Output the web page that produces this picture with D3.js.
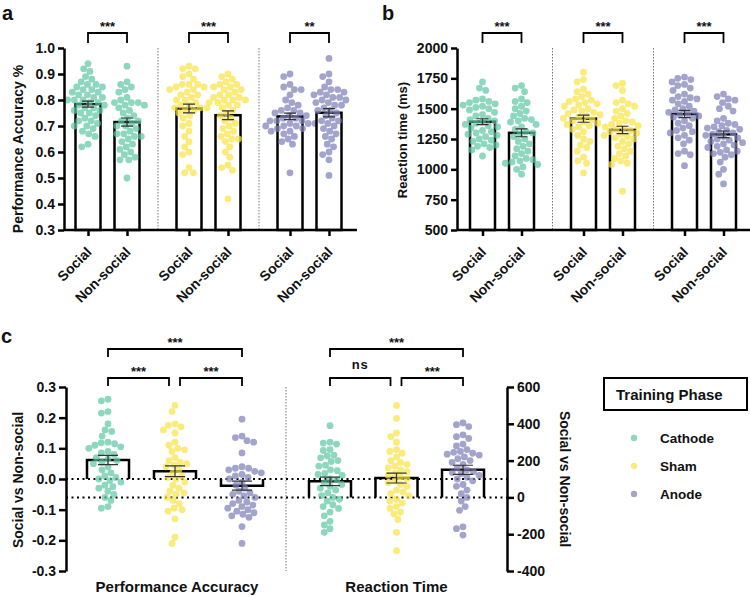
<!DOCTYPE html>
<html lang="en">
<head>
<meta charset="UTF-8">
<title>Social vs Non-social</title>
<style>
  body { margin: 0; background: #fff; }
  svg text { font-family: "Liberation Sans", Arial, sans-serif; font-weight: bold; fill: #111; }
</style>
</head>
<body>
<script src="https://d3js.org/d3.v7.min.js"></script>
<script>
// ---------- data ----------
var phases = ["Cathode", "Sham", "Anode"];
var conditions = ["Social", "Non-social"];
var phaseColor = ["#5fc7a3", "#f8e346", "#8081b9"];

var accTicks = [0.3, 0.4, 0.5, 0.6, 0.7, 0.8, 0.9, 1.0];
var rtTicks = [500, 750, 1000, 1250, 1500, 1750, 2000];
var diffAccTicks = [-0.3, -0.2, -0.1, 0, 0.1, 0.2, 0.3];
var diffRtTicks = [-400, -200, 0, 200, 400, 600];

// a: performance accuracy
var accCathodeSocial = [0.94, 0.92, 0.91, 0.89, 0.88, 0.87, 0.86, 0.86, 0.85, 0.85, 0.84, 0.84, 0.83, 0.83, 0.82, 0.82, 0.81, 0.81, 0.80, 0.80, 0.80, 0.79, 0.79, 0.78, 0.78, 0.77, 0.77, 0.76, 0.76, 0.75, 0.75, 0.74, 0.73, 0.72, 0.72, 0.71, 0.70, 0.70, 0.69, 0.68, 0.67, 0.66, 0.63, 0.62];
var accCathodeNon = [0.93, 0.87, 0.86, 0.85, 0.84, 0.83, 0.81, 0.80, 0.79, 0.79, 0.79, 0.78, 0.78, 0.77, 0.76, 0.75, 0.74, 0.73, 0.72, 0.72, 0.71, 0.70, 0.70, 0.69, 0.68, 0.67, 0.67, 0.66, 0.66, 0.65, 0.64, 0.63, 0.62, 0.61, 0.60, 0.59, 0.58, 0.57, 0.57, 0.50];
var accShamSocial = [0.93, 0.92, 0.92, 0.90, 0.89, 0.88, 0.86, 0.86, 0.86, 0.85, 0.85, 0.84, 0.84, 0.83, 0.82, 0.82, 0.81, 0.80, 0.80, 0.79, 0.78, 0.78, 0.77, 0.77, 0.77, 0.76, 0.76, 0.75, 0.74, 0.73, 0.71, 0.70, 0.68, 0.66, 0.64, 0.62, 0.60, 0.59, 0.54, 0.52, 0.52];
var accShamNon = [0.90, 0.89, 0.88, 0.87, 0.86, 0.86, 0.85, 0.85, 0.84, 0.84, 0.83, 0.82, 0.82, 0.81, 0.81, 0.80, 0.80, 0.80, 0.79, 0.79, 0.78, 0.78, 0.77, 0.76, 0.75, 0.74, 0.73, 0.72, 0.71, 0.70, 0.69, 0.68, 0.67, 0.66, 0.65, 0.65, 0.64, 0.62, 0.60, 0.58, 0.55, 0.54, 0.53, 0.42];
var accAnodeSocial = [0.90, 0.89, 0.86, 0.85, 0.84, 0.84, 0.82, 0.80, 0.79, 0.78, 0.77, 0.76, 0.76, 0.75, 0.75, 0.74, 0.74, 0.73, 0.73, 0.72, 0.72, 0.72, 0.71, 0.71, 0.71, 0.70, 0.70, 0.70, 0.69, 0.69, 0.68, 0.68, 0.67, 0.66, 0.65, 0.64, 0.63, 0.52];
var accAnodeNon = [0.96, 0.90, 0.89, 0.87, 0.85, 0.84, 0.84, 0.83, 0.83, 0.82, 0.82, 0.81, 0.81, 0.80, 0.80, 0.79, 0.79, 0.78, 0.78, 0.77, 0.76, 0.76, 0.75, 0.74, 0.73, 0.72, 0.72, 0.71, 0.70, 0.69, 0.68, 0.67, 0.66, 0.65, 0.63, 0.62, 0.60, 0.59, 0.57, 0.51];

// b: reaction time (ms)
var rtCathodeSocial = [1720, 1670, 1650, 1580, 1570, 1560, 1550, 1540, 1530, 1520, 1510, 1500, 1490, 1470, 1450, 1440, 1420, 1410, 1400, 1390, 1380, 1370, 1360, 1350, 1340, 1320, 1310, 1300, 1290, 1280, 1270, 1250, 1240, 1230, 1210, 1200, 1190, 1180, 1160, 1110];
var rtCathodeNon = [1690, 1670, 1640, 1580, 1560, 1550, 1520, 1500, 1480, 1460, 1440, 1420, 1410, 1400, 1390, 1370, 1350, 1330, 1310, 1300, 1290, 1270, 1250, 1230, 1210, 1190, 1170, 1150, 1130, 1110, 1090, 1080, 1070, 1060, 1050, 1040, 1020, 1000, 960];
var rtShamSocial = [1800, 1740, 1720, 1660, 1640, 1620, 1600, 1580, 1570, 1560, 1550, 1540, 1530, 1520, 1500, 1490, 1480, 1470, 1460, 1450, 1440, 1430, 1420, 1410, 1400, 1390, 1380, 1370, 1360, 1350, 1330, 1310, 1280, 1250, 1230, 1200, 1180, 1150, 1100, 1070, 1050, 970];
var rtShamNon = [1710, 1690, 1650, 1570, 1550, 1540, 1520, 1500, 1480, 1460, 1440, 1420, 1400, 1390, 1380, 1370, 1360, 1350, 1340, 1330, 1320, 1310, 1300, 1290, 1280, 1270, 1260, 1250, 1230, 1210, 1190, 1170, 1150, 1130, 1110, 1090, 1070, 1050, 1040, 820];
var rtAnodeSocial = [1760, 1750, 1740, 1720, 1700, 1690, 1670, 1650, 1620, 1600, 1590, 1580, 1570, 1560, 1540, 1520, 1500, 1490, 1480, 1470, 1460, 1450, 1440, 1430, 1420, 1400, 1380, 1360, 1340, 1320, 1310, 1300, 1280, 1260, 1240, 1210, 1150, 1130, 1120, 1030];
var rtAnodeNon = [1620, 1600, 1580, 1570, 1550, 1520, 1500, 1480, 1420, 1400, 1380, 1370, 1360, 1350, 1340, 1330, 1320, 1310, 1300, 1290, 1280, 1270, 1260, 1250, 1240, 1230, 1220, 1210, 1200, 1190, 1180, 1160, 1150, 1140, 1130, 1120, 1100, 1060, 1000, 960, 880];

// c: social minus non-social
var diffAccCathode = [0.26, 0.255, 0.22, 0.215, 0.18, 0.16, 0.155, 0.14, 0.12, 0.118, 0.115, 0.11, 0.105, 0.10, 0.09, 0.085, 0.08, 0.07, 0.065, 0.06, 0.055, 0.05, 0.04, 0.03, 0.02, 0.01, 0.005, 0.0, -0.005, -0.01, -0.02, -0.025, -0.03, -0.04, -0.05, -0.06, -0.07, -0.09, -0.095];
var diffAccSham = [0.24, 0.22, 0.18, 0.175, 0.17, 0.16, 0.15, 0.12, 0.11, 0.10, 0.095, 0.09, 0.07, 0.06, 0.055, 0.05, 0.045, 0.04, 0.03, 0.02, 0.01, 0.005, 0.0, -0.01, -0.02, -0.03, -0.04, -0.045, -0.05, -0.06, -0.07, -0.08, -0.095, -0.10, -0.105, -0.13, -0.19, -0.21];
var diffAccAnode = [0.195, 0.14, 0.135, 0.125, 0.12, 0.085, 0.04, 0.035, 0.035, 0.03, 0.025, 0.02, 0.015, 0.01, 0.005, 0.0, -0.01, -0.02, -0.03, -0.04, -0.045, -0.05, -0.055, -0.06, -0.07, -0.075, -0.08, -0.085, -0.09, -0.095, -0.10, -0.105, -0.11, -0.115, -0.12, -0.125, -0.155, -0.21];
var diffRtCathode = [390, 300, 295, 290, 260, 255, 230, 225, 215, 200, 195, 175, 170, 150, 145, 130, 125, 120, 100, 95, 80, 70, 60, 50, 40, 25, 10, 0, -10, -20, -40, -50, -60, -80, -100, -130, -150, -170, -190];
var diffRtSham = [500, 430, 350, 330, 300, 260, 250, 240, 220, 200, 190, 180, 170, 160, 150, 140, 130, 120, 110, 100, 90, 80, 70, 60, 40, 30, 20, 10, -10, -20, -30, -50, -60, -80, -90, -120, -190, -290];
var diffRtAnode = [405, 395, 385, 340, 330, 320, 290, 280, 260, 250, 245, 240, 235, 230, 220, 210, 200, 190, 180, 160, 150, 140, 135, 130, 120, 110, 100, 90, 70, 60, 40, 20, 0, -20, -50, -70, -160, -170, -205];

var starsA = ["***", "***", "**"];
var starsB = ["***", "***", "***"];

// ---------- helpers ----------
var svg = d3.select("body").append("svg").attr("width", 750).attr("height", 597);

// simple beeswarm: each point goes as close to the centre as it can without overlapping
function swarm(values, y, r) {
  var d = 2 * r;
  var pts = values.map(function (v) { return { v: v, y: y(v) }; }).sort(function (a, b) { return a.y - b.y; });
  var placed = [];
  pts.forEach(function (p) {
    var near = placed.filter(function (q) { return Math.abs(q.y - p.y) < d; });
    var cands = [0];
    near.forEach(function (q) {
      var dx = Math.sqrt(d * d - (q.y - p.y) * (q.y - p.y));
      cands.push(q.x - dx, q.x + dx);
    });
    cands.sort(function (a, b) { return Math.abs(a) - Math.abs(b); });
    p.x = cands.find(function (c) {
      return near.every(function (q) { return (q.x - c) * (q.x - c) + (q.y - p.y) * (q.y - p.y) >= d * d - 0.01; });
    });
    placed.push(p);
  });
  return pts;
}

function dots(g, values, cx, y, color, r) {
  g.selectAll(null).data(swarm(values, y, r)).enter().append("circle")
    .attr("cx", function (d) { return cx + d.x; })
    .attr("cy", function (d) { return d.y; })
    .attr("r", r)
    .attr("fill", color)
    .attr("fill-opacity", 0.72);
}

function errBar(g, values, cx, y, half) {
  var m = d3.mean(values), s = d3.deviation(values) / Math.sqrt(values.length);
  var p = "M" + cx + "," + y(m - s) + "V" + y(m + s) +
    "M" + (cx - half) + "," + y(m - s) + "H" + (cx + half) +
    "M" + (cx - half) + "," + y(m + s) + "H" + (cx + half);
  g.append("path").attr("d", p).attr("stroke", "#333").attr("stroke-width", 1.2).attr("fill", "none");
}

function bracket(g, x0, x1, yTop, leg, label, isText) {
  g.append("path").attr("d", "M" + x0 + "," + (yTop + leg) + "V" + yTop + "H" + x1 + "V" + (yTop + leg))
    .attr("stroke", "#000").attr("stroke-width", 1.8).attr("fill", "none");
  g.append("text").attr("x", (x0 + x1) / 2).attr("y", isText ? yTop - 9 : yTop - 2)
    .attr("text-anchor", "middle").attr("font-size", 13).attr("letter-spacing", isText ? 1 : 0)
    .text(label);
}

function styleAxis(g) {
  g.selectAll(".domain, .tick line").attr("stroke", "#000").attr("stroke-width", 2.5);
  g.selectAll(".tick text").attr("font-size", 14).attr("fill", "#111");
}

// ---------- panels a and b ----------
function barPanel(opt) {
  var g = svg.append("g");
  var y = d3.scaleLinear().domain(opt.domain).range([230, 48]);
  var xg = d3.scalePoint().domain(phases).range(opt.groupRange);
  var xc = d3.scalePoint().domain(conditions).range([-19.5, 19.5]);
  var keys = [];
  phases.forEach(function (p) { conditions.forEach(function (c) { keys.push(p + "|" + c); }); });
  var x = d3.scaleOrdinal().domain(keys).range(keys.map(function (k) {
    var s = k.split("|"); return xg(s[0]) + xc(s[1]);
  }));

  // separators
  var step = xg.step();
  [0, 1].forEach(function (i) {
    var sx = xg(phases[i]) + step / 2;
    g.append("line").attr("x1", sx).attr("x2", sx).attr("y1", 48).attr("y2", 230)
      .attr("stroke", "#777").attr("stroke-width", 1).attr("stroke-dasharray", "1.5,1.5");
  });

  phases.forEach(function (p, i) {
    conditions.forEach(function (c, j) {
      var vals = opt.data[i][j], cx = x(p + "|" + c), m = d3.mean(vals);
      g.append("rect").attr("x", cx - 12.5).attr("width", 25).attr("y", y(m)).attr("height", 230 - y(m))
        .attr("fill", "#fff").attr("stroke", "#000").attr("stroke-width", 2.5);
      dots(g, vals, cx, y, phaseColor[i], 3.4);
      errBar(g, vals, cx, y, 6);
    });
    bracket(g, x(p + "|Social"), x(p + "|Non-social"), 33, 10, opt.stars[i]);
  });

  var ya = g.append("g").attr("transform", "translate(" + opt.left + ",0)")
    .call(d3.axisLeft(y).tickValues(opt.ticks).tickFormat(opt.format).tickSize(6).tickSizeOuter(0));
  styleAxis(ya);

  var xa = g.append("g").attr("transform", "translate(0,230)")
    .call(d3.axisBottom(x).tickSize(6).tickSizeOuter(0).tickFormat(function (k) { return k.split("|")[1]; }));
  xa.select(".domain").remove();
  styleAxis(xa);
  xa.selectAll(".tick text").attr("y", 0).attr("dy", 0).attr("text-anchor", "end")
    .attr("transform", "translate(4,23) rotate(-45)");
  g.append("line").attr("x1", opt.left).attr("x2", opt.right).attr("y1", 230).attr("y2", 230)
    .attr("stroke", "#000").attr("stroke-width", 2.5);

  g.append("text").attr("transform", "translate(" + opt.labelX + "," + opt.labelY + ") rotate(-90)")
    .attr("text-anchor", "middle").attr("font-size", opt.labelSize).text(opt.label);
  g.append("text").attr("x", opt.letterX).attr("y", 20).attr("font-size", 20).text(opt.letter);
}

barPanel({
  domain: [0.3, 1.0], ticks: accTicks, format: d3.format(".1f"),
  groupRange: [107.5, 309.5], left: 64, right: 357,
  data: [[accCathodeSocial, accCathodeNon], [accShamSocial, accShamNon], [accAnodeSocial, accAnodeNon]],
  stars: starsA, label: "Performance Accuracy %", labelX: 23, labelY: 149, labelSize: 14, letter: "a", letterX: 2
});
barPanel({
  domain: [500, 2000], ticks: rtTicks, format: d3.format("d"),
  groupRange: [502, 704], left: 457, right: 750,
  data: [[rtCathodeSocial, rtCathodeNon], [rtShamSocial, rtShamNon], [rtAnodeSocial, rtAnodeNon]],
  stars: starsB, label: "Reaction time (ms)", labelX: 407, labelY: 140, labelSize: 13, letter: "b", letterX: 382
});

// ---------- panel c ----------
var gc = svg.append("g");
var yL = d3.scaleLinear().domain([-0.3, 0.3]).range([571, 387]);
var yR = d3.scaleLinear().domain([-400, 600]).range([571, 387]);
var xL = d3.scalePoint().domain(phases).range([108, 242]);
var xR = d3.scalePoint().domain(phases).range([330, 463]);

gc.append("line").attr("x1", 286).attr("x2", 286).attr("y1", 387).attr("y2", 571)
  .attr("stroke", "#777").attr("stroke-width", 1).attr("stroke-dasharray", "1.5,1.5");
[yL(0), yR(0)].forEach(function (yy) {
  gc.append("line").attr("x1", 66).attr("x2", 507).attr("y1", yy).attr("y2", yy)
    .attr("stroke", "#000").attr("stroke-width", 2).attr("stroke-dasharray", "2,3.5");
});

function diffGroup(vals, cx, y, color) {
  var m = d3.mean(vals), b = y(0), t = y(m);
  gc.append("path").attr("d", "M" + (cx - 21) + "," + b + "V" + t + "H" + (cx + 21) + "V" + b)
    .attr("fill", "none").attr("stroke", "#000").attr("stroke-width", 2.5);
  dots(gc, vals, cx, y, color, 3.4);
  errBar(gc, vals, cx, y, 10);
}
[diffAccCathode, diffAccSham, diffAccAnode].forEach(function (v, i) { diffGroup(v, xL(phases[i]), yL, phaseColor[i]); });
[diffRtCathode, diffRtSham, diffRtAnode].forEach(function (v, i) { diffGroup(v, xR(phases[i]), yR, phaseColor[i]); });

bracket(gc, xL("Cathode"), xL("Anode"), 349, 8, "***");
bracket(gc, xL("Cathode"), xL("Sham") - 6, 378, 8, "***");
bracket(gc, xL("Sham") + 5, xL("Anode"), 378, 8, "***");
bracket(gc, xR("Cathode"), xR("Anode"), 349, 8, "***");
bracket(gc, xR("Cathode"), xR("Sham") - 6, 378, 8, "ns", true);
bracket(gc, xR("Sham") + 5, xR("Anode"), 378, 8, "***");

var fmt1 = function (d) { return d.toFixed(1); };
var axL = gc.append("g").attr("transform", "translate(66,0)")
  .call(d3.axisLeft(yL).tickValues(diffAccTicks).tickFormat(fmt1).tickSize(7).tickSizeOuter(0));
styleAxis(axL);
var axR = gc.append("g").attr("transform", "translate(507,0)")
  .call(d3.axisRight(yR).tickValues(diffRtTicks).tickFormat(d3.format("d")).tickSize(7).tickSizeOuter(0));
styleAxis(axR);
axR.selectAll(".tick text").text(function (d) { return String(d); });

gc.append("text").attr("transform", "translate(23,480) rotate(-90)").attr("text-anchor", "middle")
  .attr("font-size", 14).text("Social vs Non-social");
gc.append("text").attr("transform", "translate(560,479) rotate(90)").attr("text-anchor", "middle")
  .attr("font-size", 14).text("Social vs Non-social");
gc.append("text").attr("x", xL("Sham") + 2).attr("y", 592).attr("text-anchor", "middle")
  .attr("font-size", 15).text("Performance Accuracy");
gc.append("text").attr("x", xR("Sham")).attr("y", 592).attr("text-anchor", "middle")
  .attr("font-size", 15).text("Reaction Time");
gc.append("text").attr("x", 1).attr("y", 343).attr("font-size", 20).text("c");

// legend
var lg = svg.append("g");
lg.append("rect").attr("x", 604).attr("y", 378).attr("width", 143).attr("height", 32)
  .attr("fill", "#fff").attr("stroke", "#000").attr("stroke-width", 2);
lg.append("text").attr("x", 616).attr("y", 400).attr("font-size", 15).text("Training Phase");
phases.forEach(function (p, i) {
  var yy = 438 + i * 28;
  lg.append("circle").attr("cx", 634).attr("cy", yy).attr("r", 3.2).attr("fill", phaseColor[i]).attr("fill-opacity", 0.72);
  lg.append("text").attr("x", 660).attr("y", yy + 5).attr("font-size", 13.5).text(p);
});
</script>
</body>
</html>
